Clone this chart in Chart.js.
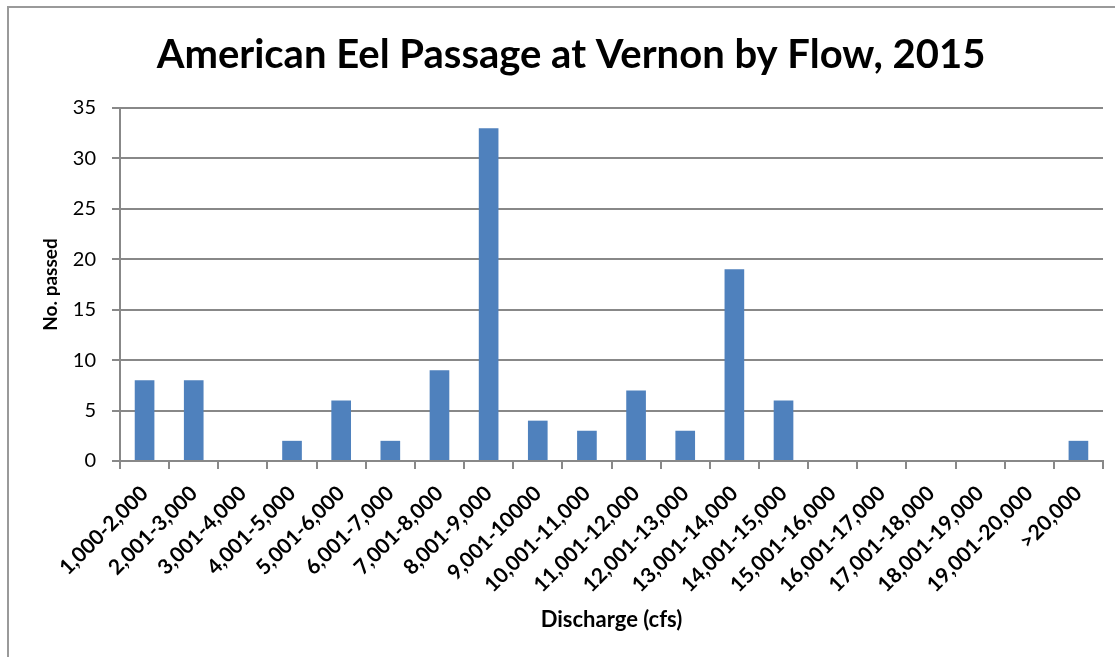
<!DOCTYPE html>
<html>
<head>
<meta charset="utf-8">
<script src="https://cdn.jsdelivr.net/npm/chart.js@4"></script>
<style>
  html, body { margin: 0; padding: 0; background: #fff; overflow: hidden; }
  #frame {
    position: absolute; left: 7px; top: 6px; width: 1130px; height: 670px;
    border: 2px solid #9a9a9a; box-sizing: border-box;
  }
  #wrap { position: absolute; left: 0; top: 0; width: 1115px; height: 657px; }
</style>
</head>
<body>
<div id="frame"></div>
<div id="wrap"><canvas id="myChart" width="1115" height="657"></canvas></div>
<script>
// discharge bins (cfs)
const categories = [
  '1,000-2,000', '2,001-3,000', '3,001-4,000', '4,001-5,000', '5,001-6,000',
  '6,001-7,000', '7,001-8,000', '8,001-9,000', '9,001-10000', '10,001-11,000',
  '11,001-12,000', '12,001-13,000', '13,001-14,000', '14,001-15,000', '15,001-16,000',
  '16,001-17,000', '17,001-18,000', '18,001-19,000', '19,001-20,000', '>20,000'
]
const passed = [8, 8, 0, 2, 6, 2, 9, 33, 4, 3, 7, 3, 19, 6, 0, 0, 0, 0, 0, 2]
const yTicks = [0, 5, 10, 15, 20, 25, 30, 35]

const gridGray = '#888888'
const fontFam = "Lato, 'Open Sans', sans-serif"

var ctx = document.getElementById('myChart')
var myChart = new Chart(ctx, {
  type: 'bar',
  data: {
    labels: categories,
    datasets: [{
      label: 'No. passed',
      data: passed,
      backgroundColor: '#4f81bd',
      borderWidth: 0,
      barPercentage: 0.4,
      categoryPercentage: 1.0
    }]
  },
  options: {
    responsive: false,
    animation: false,
    layout: { padding: { left: 39, right: 12, top: 0, bottom: 20 } },
    plugins: {
      legend: { display: false },
      tooltip: { enabled: false },
      title: {
        display: true,
        text: 'American Eel Passage at Vernon by Flow, 2015',
        color: '#000',
        font: { family: fontFam, size: 40, weight: 'bold' },
        padding: { top: 31, bottom: 29 }
      }
    },
    scales: {
      x: {
        afterFit: (axis) => { axis.height = 176 },
        grid: { drawOnChartArea: false, drawTicks: true, tickLength: 8, color: gridGray, lineWidth: 2 },
        border: { display: true, color: gridGray, width: 2 },
        ticks: {
          color: '#000', maxRotation: 45, minRotation: 45, autoSkip: false, padding: 12,
          font: { family: fontFam, size: 21, weight: 'bold' }
        },
        title: {
          display: true, text: 'Discharge (cfs)', color: '#000',
          font: { family: fontFam, size: 22, weight: 'bold' }, padding: { top: 4, bottom: 4 }
        }
      },
      y: {
        min: 0, max: 35,
        afterFit: (axis) => { axis.width = 81 },
        afterBuildTicks: (axis) => { axis.ticks = yTicks.map(v => ({ value: v })) },
        grid: { color: gridGray, lineWidth: 2, tickLength: 8 },
        border: { display: true, color: gridGray, width: 2 },
        ticks: { color: '#000', padding: 16, font: { family: fontFam, size: 20 } },
        title: {
          display: true, text: 'No. passed', color: '#000',
          font: { family: fontFam, size: 19, weight: 'bold' }, padding: 0
        }
      }
    }
  }
})
</script>
</body>
</html>
